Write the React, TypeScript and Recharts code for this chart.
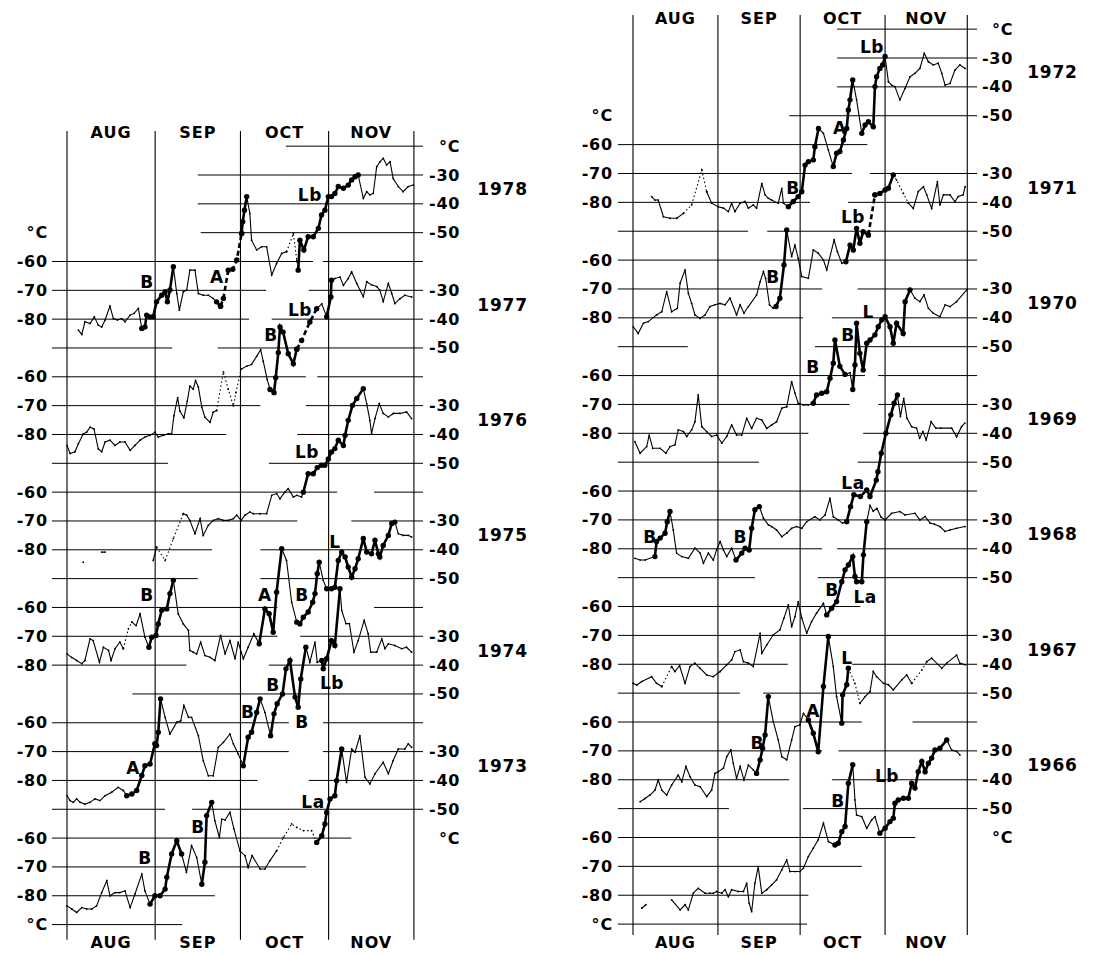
import React from 'react';
import { LineChart, Line, XAxis, YAxis, ReferenceLine, ReferenceDot } from 'recharts';

// Stratospheric temperature traces, Aug 1 (day 0) to Nov 30, one trace per year.
// Each year is drawn 40 °C lower than the one above it on a shared plot scale.
type Pt = [number, number];
type Seg = [string, Pt[]]; // t thin, d dotted, b bold with markers, k bold dashed with markers

const MONTHS = ['AUG', 'SEP', 'OCT', 'NOV'];
const MONTH_STARTS = [0, 31, 61, 92, 122];
const MONTH_MIDS = [15.5, 46, 76.5, 107];
const LEFT_TICKS = [-60, -70, -80];
const RIGHT_TICKS = [-30, -40, -50];
const YEAR_STEP = 40;

const YEARS_A = [1978, 1977, 1976, 1975, 1974, 1973];
const YEARS_B = [1972, 1971, 1970, 1969, 1968, 1967, 1966];

const S1978: Seg[] = [
  ['t', [[4, -83.8], [5.2, -85.3], [6.3, -80.9], [8.1, -81.5], [9.6, -79.2], [11, -82.1], [12.2, -82.7], [13.4, -80.3], [15.1, -75.5], [16.3, -79.8], [17.7, -80.3], [19.2, -79.8], [20.4, -80.9], [22.2, -78.6], [23.6, -78], [25.1, -76.3], [26.3, -83.2]]],
  ['b', [[26.3, -83.2], [27.4, -82.7], [28, -78.6], [29.2, -79.2], [30.3, -79.2], [31.5, -74], [33.3, -71.7], [34.5, -70.5], [35.3, -74], [36.2, -69.9], [37.4, -61.8]]],
  ['t', [[37.4, -61.8], [38.6, -71.1], [39.5, -76.9], [40.9, -70.5], [42.1, -69.9], [43.2, -63], [45, -63], [46.2, -71.1], [47.9, -71.7], [49.7, -71.7], [51.4, -72.8], [52.6, -74]]],
  ['b', [[52.6, -74], [54, -75.5]]],
  ['k', [[54, -75.5], [55, -72.8], [56.7, -63], [58.3, -62.7], [59.7, -59.5], [61.4, -50.3]]],
  ['b', [[61.4, -50.3], [61.8, -46.2], [62.4, -42.2], [63.2, -37.5]]],
  ['t', [[63.2, -37.5], [64.3, -43.3], [64.9, -52.6], [66.7, -56], [68.4, -54.9], [70.2, -54.9], [72, -64.7], [73.7, -60.7], [75.5, -57.2], [77.2, -56.6]]],
  ['d', [[77.2, -56.6], [79.6, -50.3], [80.8, -59.5], [81.3, -63]]],
  ['b', [[81.3, -63], [81.9, -52.6], [83.3, -56], [84.8, -51.4], [86.6, -51.4], [88.4, -48.5], [89.5, -43.9], [90.7, -42.2], [91.9, -37.5], [93, -37.5], [94.2, -36.4], [95.4, -34], [97.2, -34.6], [98.9, -33.5], [100.1, -31.7], [101.3, -30.6], [102.4, -30]]],
  ['t', [[102.4, -30], [104.2, -38.1], [105.4, -35.8], [106.5, -36.9], [107.7, -36.4], [108.9, -27.1], [110.1, -25.4], [111.2, -24.2], [112.4, -26.5], [113.6, -25.4], [114.7, -31.2], [116.5, -34], [118.2, -35.8], [120, -34], [121.8, -33.5]]],
];

const S1977: Seg[] = [
  ['t', [[0, -83.8], [1.1, -86.6], [2.8, -86], [4, -83.2], [5.7, -79.8], [6.9, -79.2], [8.1, -77.5], [9.5, -78.1], [11, -85], [12.2, -86], [13.4, -82.6], [15.1, -82], [16.9, -83.8], [18.6, -82.6], [20.4, -82.6], [22.2, -85.5], [23.9, -83.8], [25.7, -82], [27.4, -80.9], [29.2, -80.3], [30.9, -79.2], [32.1, -80.9], [33.9, -80.3], [35.6, -79.8], [36.8, -79.8], [37.6, -73.5], [38.9, -67.2], [39.7, -71.9], [41.1, -74.2], [42.3, -68.4], [43.2, -63.2], [44.4, -64.3], [45.2, -61.3], [46.2, -63.6], [47.4, -70.5], [48.5, -74], [50.3, -75.8], [51.4, -72.3], [52.6, -71.7]]],
  ['d', [[52.6, -71.7], [55, -58.3], [56.7, -64.3], [58.5, -70.1], [59.4, -65.5], [61.2, -57.4]]],
  ['t', [[61.2, -57.4], [63.2, -56.3], [64.9, -55.7], [66.7, -52.9], [68.1, -50.6], [69, -54.6], [70.4, -60.9], [71.4, -64.4]]],
  ['b', [[71.4, -64.4], [72.8, -65.5], [73.4, -60.3], [74.3, -51.6], [74.9, -42.7], [76, -44.5], [77.8, -52], [79.6, -55.5], [80.8, -50.4]]],
  ['k', [[80.8, -50.4], [82.5, -47.4], [85.4, -41], [87.8, -36.4]]],
  ['t', [[87.8, -36.4], [89.6, -34.7], [91.3, -39.2]]],
  ['b', [[91.3, -39.2], [92.8, -32.3], [93, -26.5]]],
  ['t', [[93, -26.5], [94.2, -25.9], [96, -25.4], [97.2, -28.3], [98.9, -25.9], [100.1, -23.6], [101.9, -27.6], [103, -29.9], [104.2, -32.2], [105.4, -27], [107.1, -28.1], [108.9, -28.7], [110, -29.9], [111.2, -33.9], [113, -27.6], [114.2, -31.1], [115.3, -34.6], [117.1, -32.9], [118.8, -31.7], [121.2, -32.3]]],
];

const S1976: Seg[] = [
  ['t', [[5.7, -84.3]]],
  ['t', [[12.2, -80.8], [13.4, -80.8]]],
  ['t', [[30.3, -83.7], [31.5, -79.1]]],
  ['d', [[31.5, -79.1], [34.5, -83.7], [37.4, -76.1], [40.9, -67.5]]],
  ['t', [[40.9, -67.5], [42.1, -68], [43.2, -69.8], [45, -74.4], [46.8, -69.2], [47.9, -75], [49.7, -71.5], [51.4, -69.8], [53.2, -69.2], [55, -69.8], [56.7, -69.8], [58.5, -69.2], [59.7, -68], [61.2, -69.8], [62.6, -68], [64.3, -66.9], [65.5, -67.5], [67.9, -67.5], [70.2, -67.5], [72, -61.1], [73.7, -60.5], [74.9, -62.3], [76.6, -60], [77.8, -58.8], [79.6, -61.7], [80.8, -61.1], [82.5, -61.7], [83.1, -60]]],
  ['b', [[83.1, -60], [84.8, -53.6], [86.6, -53.6], [88, -51.5], [89.5, -50.7], [90.7, -50.7], [91.9, -48.5], [93, -46.1], [94.2, -44.9], [95.4, -42], [97.2, -43.8], [97.8, -40.3], [98.9, -35.1], [100.4, -29.9], [101.9, -27.5], [104.2, -24.1]]],
  ['t', [[104.2, -24.1], [105.4, -29.3], [106.5, -35.1], [107.1, -39.7], [108.3, -34.5], [109.8, -29.3], [111.2, -32.7], [113, -33.9], [114.8, -32.7], [117.1, -32.7], [119.4, -32.2], [121.2, -34.5]]],
];

const S1975: Seg[] = [
  ['t', [[0, -76.1], [1.6, -77.3], [3.4, -78.4], [5.2, -79.5], [6.3, -78.4], [8.1, -70.9], [9.2, -71.5], [11.4, -79], [12.8, -73.8], [14.6, -74.9], [15.5, -78.4], [16.9, -74.3], [18.6, -72], [19.8, -74.3]]],
  ['d', [[19.8, -74.3], [21.6, -67.4], [22.8, -65.1]]],
  ['t', [[22.8, -65.1], [24.3, -66.3], [25.7, -62.2], [27.4, -70.3], [28.8, -73.8]]],
  ['b', [[28.8, -73.8], [29.8, -70.3], [31.3, -69.7], [32.1, -65.7], [33.3, -61], [35.1, -60.5], [36.2, -55.2], [37.4, -50.6]]],
  ['t', [[37.4, -50.6], [39.1, -62.2], [40.9, -65.7], [42.7, -68], [43.2, -74.9], [44.4, -75.5], [45.6, -76.1], [47, -72], [48.5, -76.7], [50.3, -77.3], [52, -78.4], [54, -69.7], [55.6, -76.1], [57.3, -71.5], [59.1, -77.8], [60.2, -72], [62, -77.8], [63.7, -73.8], [65.7, -69.1], [67.6, -72.6]]],
  ['b', [[67.6, -72.6], [69.6, -60.5], [71.1, -62.2], [72.5, -68.6], [73.7, -54.7], [75.5, -39.6]]],
  ['t', [[75.5, -39.6], [77.2, -43.7], [79, -58.2], [80.8, -65.1]]],
  ['b', [[80.8, -65.1], [81.9, -65.7], [83.1, -63.4], [84.8, -61.6], [86.4, -58.2], [87.2, -55.2], [88, -48.3], [88.7, -44.3]]],
  ['t', [[88.7, -44.3], [90.1, -50.6], [91.3, -53.5]]],
  ['b', [[91.3, -53.5], [93, -53.5], [94.2, -53], [95.4, -43.7], [96.6, -40.8], [97.8, -42.5], [98.9, -46], [100.1, -49.5], [101.3, -46.6], [102.4, -43.1], [104.2, -36.1], [105.4, -40.8], [107.1, -41.4], [108.3, -36.7], [109.5, -41.4], [110, -42.5], [111.2, -38.5], [113, -35], [114.2, -30.9], [115.3, -30.4]]],
  ['t', [[115.3, -30.4], [116.5, -34.4], [118.2, -35], [120, -35], [121.2, -35.6]]],
];

const S1974: Seg[] = [
  ['t', [[0, -85.3], [1.1, -87], [2.2, -87.6], [3.4, -86.4], [4.6, -87.6], [6.3, -88.2], [8.1, -87.6], [9.8, -86.4], [11.6, -87], [13.4, -85.3], [15.7, -84.1], [18, -82.4], [19.8, -83.5], [21, -85.3]]],
  ['b', [[21, -85.3], [22.8, -84.7], [24.5, -83.5], [26.3, -78.3], [27.4, -74.9], [29.2, -74.3], [30.9, -67.3], [31.5, -67.9], [32.1, -63.3], [32.9, -51.7]]],
  ['t', [[32.9, -51.7], [34.5, -58.1], [36.2, -63.9], [38.6, -59.8], [40, -59.3], [41.1, -54], [42.7, -58.1], [43.8, -58.1], [46.2, -64.5], [47.9, -73.1], [49.7, -78.4], [51.4, -78.4], [53.2, -68.5], [55, -66.8], [57.3, -63.9], [58.5, -67.3], [60.2, -70.8], [62, -74.9]]],
  ['b', [[62, -74.9], [63.7, -65], [64.9, -63.3], [66.7, -56.4], [67.9, -51.7]]],
  ['t', [[67.9, -51.7], [69.6, -56.4], [71.6, -64.5]]],
  ['b', [[71.6, -64.5], [72.8, -56.9], [73.9, -53.4], [75.8, -50], [77, -41.3], [78.4, -38.4], [80.2, -51.1], [81.3, -54.6], [82.2, -44.8], [84, -33.8]]],
  ['t', [[84, -33.8], [85.4, -39], [87.2, -32], [88, -39], [89.6, -38.4]]],
  ['b', [[89.6, -38.4], [90.1, -41.3], [91.3, -37.8], [93, -31.5], [94.2, -33.2], [96, -13.5]]],
  ['t', [[96, -13.5], [96.6, -21], [98.1, -25.6], [99.3, -25.6], [100.9, -35.5], [102.4, -31.5], [104.5, -24.5], [105.9, -29.1], [106.8, -35.5], [108.9, -35.5], [110.7, -30.9], [111.8, -34.3], [113, -32.6], [115.3, -33.2], [117.7, -34.3], [119.4, -33.8], [121.2, -35.5]]],
];

const S1973: Seg[] = [
  ['t', [[0, -83.5], [1.7, -84.6], [3.4, -85.8], [5.2, -84.1], [6.9, -84.6], [8.7, -84.6], [10.4, -83.5], [12.2, -78.9], [14, -74.8], [15.1, -80], [16.9, -78.9], [18.6, -78.9], [20.4, -78.3], [22.2, -84.1], [23.9, -79.4], [26.3, -72.5], [27.4, -78.3], [29.2, -82.9]]],
  ['b', [[29.2, -82.9], [30.9, -80], [32.7, -80], [34.5, -77.7], [35.1, -73.6], [36.8, -65.5], [38.6, -60.9], [40.3, -65.5]]],
  ['t', [[40.3, -65.5], [42, -71.9], [43.8, -62.6], [45.6, -66.7], [47.4, -76]]],
  ['b', [[47.4, -76], [48.5, -68.4], [49.1, -52.2], [50.9, -47.6]]],
  ['t', [[50.9, -47.6], [52, -54], [53.6, -59.8], [54.4, -53.4], [55.6, -53.7], [57.3, -51.1], [58.7, -56.8], [60.8, -64.4], [62.6, -66.1], [63.7, -70.2], [65.1, -66.1], [67.9, -70.7], [69.6, -70.7], [71.4, -67.8], [73.7, -64.4]]],
  ['d', [[73.7, -64.4], [76.1, -59.8], [79, -55.1], [80.8, -56.3], [83.1, -57.4], [86, -57.4], [87.8, -61.5]]],
  ['b', [[87.8, -61.5], [89.6, -59.2], [90.7, -55.1], [91.3, -51.1], [92.5, -46.4], [94.2, -45.3], [94.8, -40.1], [96.6, -29.1]]],
  ['t', [[96.6, -29.1], [98.3, -40.7], [100.1, -29.1], [101.3, -30.2], [103, -24.5], [104.8, -38.9], [106.5, -41.2], [108.3, -37.7], [111.2, -33.7], [113, -37.7], [114.7, -33.1], [116.5, -29.1], [118.8, -29.1], [120, -27.3], [121.2, -28.5]]],
];

const S1972: Seg[] = [
  ['t', [[6.8, -78], [8, -79.2], [9.2, -79.2], [11.1, -85], [13.5, -85.5], [16, -85.5], [18.4, -83.8]]],
  ['d', [[18.4, -83.8], [21.4, -80.9], [25.1, -68.8], [26.9, -76.3]]],
  ['t', [[26.9, -76.3], [28.7, -80.3], [31.1, -81.5], [33, -82], [34.8, -83.2], [36, -80.3], [37.2, -83.2], [39.1, -80.3], [40.9, -79.7], [42.1, -82], [43.9, -80.9], [45.1, -82], [47, -73.4], [48.2, -77.4], [49.4, -78.6], [50.6, -79.2], [53, -80.3], [54.3, -75.2], [54.9, -80.3], [56.7, -81.5]]],
  ['b', [[56.7, -81.5], [58.5, -79.7], [60.3, -78], [61.6, -76.3], [62.8, -67.1], [64, -65.9], [65.8, -65.3], [66.4, -60.7], [67.7, -54.4]]],
  ['t', [[67.7, -54.4], [69.5, -56.1], [71.3, -61.9], [73.1, -67.6]]],
  ['b', [[73.1, -67.6], [74.3, -63], [75.5, -62.4], [76.8, -58.4], [78, -54.4], [78.6, -48], [79.2, -44.5], [80.2, -37.6]]],
  ['t', [[80.2, -37.6], [81.6, -44.5], [83.5, -56.1]]],
  ['b', [[83.5, -56.1], [84.7, -53.2], [85.9, -52.1], [87.7, -53.8], [88.3, -39.9], [88.9, -36.5], [90.1, -33.6], [91.1, -32.4], [92, -29.5]]],
  ['t', [[92, -29.5], [93.2, -38.2], [94.4, -39.4], [95.6, -39.9], [97.4, -44.5], [99.3, -40.5], [101.1, -36.5], [102.9, -35.3], [104.7, -33.6], [106.3, -28.4], [107.8, -31.3], [109.6, -32.4], [111.4, -31.8], [112.7, -35.3], [113.9, -39.4], [115.7, -38.8], [117.5, -34.2], [119.3, -32.4], [121.2, -33.6]]],
];

const S1971: Seg[] = [
  ['t', [[0.1, -83.1], [1.9, -85.4], [3.8, -81.9], [5.6, -81.3], [8.6, -79], [10.5, -77.9], [12.3, -70.9], [14.1, -77.9], [16.2, -76.7], [17.2, -68], [19, -63.4], [20.2, -71.5], [21.4, -75], [22.6, -79], [24.5, -80.2], [26.3, -79], [28.1, -76.1], [29.9, -75.5], [31.8, -75], [33.6, -75.5], [35.4, -73.2], [37.8, -79], [39.1, -75.5], [40.5, -78.4], [42.1, -76.1], [45.1, -72.1], [46.4, -67.5], [47.6, -64], [48.4, -66.3], [49.8, -75.5], [51.2, -76.7], [52.2, -76.1]]],
  ['b', [[52.2, -76.1], [53.6, -73.2], [55.1, -61.7], [56.1, -49.6]]],
  ['t', [[56.1, -49.6], [57.9, -58.8], [59.1, -54.8], [60.3, -59.4], [61.6, -65.7], [64, -66.3], [65.8, -56.5], [67.6, -57.6], [69.5, -60], [70.7, -63.4], [73.4, -53], [74.6, -57.1], [76.2, -61.1], [77.7, -60.6]]],
  ['b', [[77.7, -60.6], [79.2, -54.8], [80.4, -56.5], [81.6, -49], [82.8, -54.2], [84, -50.2], [85.9, -51.3]]],
  ['k', [[85.9, -51.3], [88.3, -37.4]]],
  ['b', [[88.3, -37.4], [90.1, -36.9], [92, -35.7], [93.2, -35.1], [95, -30.5]]],
  ['d', [[95, -30.5], [96.2, -32.3], [98.7, -36.9], [100.5, -40.3]]],
  ['t', [[100.5, -40.3], [102.3, -42.1], [104.1, -36.3], [106, -34.6], [107.2, -37.4], [109, -42.1], [111.1, -32.8], [112, -40.9], [113.3, -37.4], [115.7, -37.4], [117.5, -39.8], [118.7, -38], [120.5, -37.4], [121.2, -34.6]]],
];

const S1970: Seg[] = [
  ['t', [[0.7, -82.9], [2.6, -86.9], [5, -84.6], [5.9, -80.6], [7.2, -85.2], [9.9, -85.2], [12, -86.9], [13.5, -84.6], [15.3, -84], [16.5, -78.8], [18.4, -79.4], [19.6, -81.1], [21.4, -78.8], [22.6, -76], [23.8, -66.7], [25.1, -77.7], [26.9, -79.4], [28.7, -81.1], [30.5, -80.6], [32.4, -83.4], [34.2, -81.1], [36, -77.1], [37.8, -80.6], [39.7, -80.6], [41.5, -74.8], [43.3, -78.3], [45.1, -74.8], [47, -75.4], [48.8, -78.3], [50.6, -77.1], [52.4, -76], [54.3, -71.3], [56.1, -70.8], [57.9, -62.1], [59.1, -66.1], [60.3, -69.6], [62.2, -70.2], [64, -70.2], [65.8, -69.6]]],
  ['b', [[65.8, -69.6], [67, -66.7], [68.9, -66.1], [70.7, -65.6], [71.9, -60.9], [73.1, -55.7], [73.7, -47.7], [75.5, -56.8], [77.4, -59.6]]],
  ['t', [[77.4, -59.6], [79.2, -59], [80.2, -64.8]]],
  ['b', [[80.2, -64.8], [81, -56.3], [81.6, -41.9], [82.8, -52.3], [84, -58.1], [85.3, -48.8], [86.5, -47.7], [88.3, -45.9], [89.5, -43.1], [90.8, -40.7], [92, -39.6], [93.8, -43.1], [95, -48.8], [96.2, -41.9], [98.6, -45.4], [99.3, -34.4], [101.1, -30.3]]],
  ['t', [[101.1, -30.3], [102.9, -33.2], [104.7, -34.4], [106.2, -32.1], [107.8, -36.7], [109.6, -38.4], [112, -39.6], [113.9, -35.5], [115.7, -36.1], [118.1, -34.4], [121.8, -30.3]]],
];

const S1969: Seg[] = [
  ['t', [[0.7, -83.3], [2.6, -83.9], [4.4, -83.9], [8, -82.7]]],
  ['b', [[8, -82.7], [8.6, -77.5], [9.9, -76.3], [11.7, -74.6], [12.5, -70.6], [13.5, -67.1]]],
  ['t', [[13.5, -67.1], [14.7, -73.5], [15.9, -81.5], [17.8, -82.7], [20.2, -83.3], [22.6, -79.8], [24.5, -81.5], [25.7, -85], [27.5, -81.5], [29.3, -83.9], [30.5, -80.4], [31.8, -77.5], [33, -80.4], [34.2, -82.7], [36, -79.8], [37.6, -83.9]]],
  ['b', [[37.6, -83.9], [39.7, -81.5], [40.9, -79.8], [42.4, -80.4], [43.3, -72.9], [44.5, -66.5], [46.1, -65.4]]],
  ['t', [[46.1, -65.4], [47.6, -69.4], [49.4, -71.7], [50.6, -72.3], [52.4, -73.5], [54.3, -75.8], [56.1, -74.6], [57.9, -72.9], [59.7, -72.3], [61.6, -72.9], [63.4, -70.6], [66.4, -68.9], [68.2, -70], [70.1, -68.3], [71.9, -62.5], [73.1, -68.9], [74.9, -70], [76.5, -71.1], [78, -70.6]]],
  ['b', [[78, -70.6], [79.4, -65.4], [80.6, -61.3], [83, -61.9], [85.3, -59.6], [86.5, -61.9], [88.8, -56.2], [89.4, -53.3], [90.6, -46.9], [92.3, -40], [94.1, -33.6], [95.3, -29.6], [96.5, -26.7]]],
  ['t', [[96.5, -26.7], [97.6, -34.2], [98.8, -27.9], [100, -34.8], [101.7, -37.7], [103.5, -38.2], [104.6, -41.7], [105.8, -39.4], [107, -42.3], [108.8, -36], [110.5, -38.2], [112.3, -38.2], [116.3, -38.2], [118.1, -41.2], [119.9, -37.7], [121.1, -36.5]]],
];

const S1968: Seg[] = [
  ['t', [[0, -86.6], [1.4, -87.2], [3.2, -86], [6.8, -84.3], [8.6, -86.6], [10.5, -87.7]]],
  ['d', [[10.5, -87.7], [14.1, -80.8]]],
  ['t', [[14.1, -80.8], [15.3, -82.5], [17, -80.5], [19, -86.6], [20.8, -80.8], [22.6, -79.6], [24.5, -81.4], [26.9, -83.7], [29.3, -84.3], [31.8, -82.5], [34.2, -80.2], [36, -78.5], [37.2, -75.6], [39.1, -75], [40.3, -79.1], [42.1, -79.6], [43.9, -80.8], [46.4, -69.2], [47, -76.2], [48.8, -73.3], [51.2, -69.8], [53.6, -68.1], [55.1, -64], [56.7, -59.4], [57.9, -67], [59.1, -63.5], [60.3, -58.3], [61.6, -64], [63.4, -69.2], [65.2, -65.2], [67, -62.3], [69.5, -58.9], [70.7, -62.9]]],
  ['b', [[70.7, -62.9], [72.5, -60.6], [74.3, -58.3], [76.2, -51.4], [77.4, -47.3], [78.6, -45.6], [80.2, -42.7], [81, -49.6], [81.6, -51.4], [83.5, -51.4], [84.1, -42.1], [85.3, -30.6]]],
  ['t', [[85.3, -30.6], [86.5, -25], [87.7, -27], [89, -26], [90.5, -29], [92, -30], [94.4, -27.7], [97.4, -27.1], [99.3, -28.3], [102.9, -27.7], [104.7, -30], [106.6, -28.8], [108.4, -31.1], [110, -31.5], [112, -32.3], [113.9, -34], [115.7, -33.5], [118.1, -32.9], [121.2, -32.3]]],
];

const S1967: Seg[] = [
  ['t', [[2.6, -87.6], [4.4, -86.5], [6.2, -85.3], [8, -83.6], [9.2, -80.1], [10.5, -83.6], [12.3, -85.3], [14.1, -81.8], [16.5, -78.4], [17.8, -80.7], [19.3, -75.4], [20.8, -78.9], [22.6, -81.8], [24.5, -82.4], [26.9, -85.8], [28.7, -83.6], [29.9, -77.8], [31.1, -77.2], [33, -76], [34.2, -72], [35.7, -69.7], [36.6, -74.3], [37.8, -79.5], [39.1, -75.4], [40.5, -80.1], [42.1, -74.9], [43.9, -76.6], [45.1, -77.8]]],
  ['b', [[45.1, -77.8], [46.4, -73.1], [47.3, -69.1], [48.2, -64.5], [49.4, -51.2]]],
  ['t', [[49.4, -51.2], [51.2, -59.9], [53, -66.2], [54.3, -72], [56.1, -73.1], [57.9, -66.2], [59.1, -61.6], [60.9, -61], [62.2, -57], [64, -59.3]]],
  ['b', [[64, -59.3], [65.8, -63.9], [67.6, -70.3], [69.5, -47.7], [71.3, -30.4]]],
  ['t', [[71.3, -30.4], [73.1, -40.8], [74.3, -51.2], [76.2, -60.4]]],
  ['b', [[76.2, -60.4], [76.5, -50.6], [78, -47.1], [78.6, -41.4]]],
  ['d', [[78.6, -41.4], [81, -46.6], [82.8, -53.5]]],
  ['t', [[82.8, -53.5], [84.7, -51.2], [86.5, -49.5], [87.7, -42.5], [88.9, -44.3], [91.4, -46.6], [93.2, -47.1], [95, -48.9], [98.1, -45.4], [99.9, -43.7], [101.7, -46.6]]],
  ['d', [[101.7, -46.6], [105.4, -42], [107.2, -39.1]]],
  ['t', [[107.2, -39.1], [109, -37.9], [112.7, -41.4], [114.5, -39.6], [118.1, -36.8], [119.3, -39.6], [121.2, -40.2]]],
];

const S1966: Seg[] = [
  ['t', [[3.2, -84.5], [4.7, -83.3]]],
  ['t', [[14.1, -81.6], [17.2, -85.1], [19, -83.3], [20.2, -85.1], [22, -79.3], [23.8, -77.6], [26.3, -79.3], [28.1, -79.3], [29.3, -79.3], [30.5, -78.7], [32.4, -79.3], [33.6, -78.1], [34.8, -80.5], [36, -78.1], [38.4, -78.7], [40.3, -78.7], [41.5, -75.8], [42.4, -82.8], [43.3, -85.7], [44.5, -75.8], [45.7, -70.1], [47, -79.3], [48.8, -78.1], [50.6, -76.4], [52.4, -74.7], [54.3, -71.2], [56.1, -67.8], [57.3, -71.8], [59.1, -71.8], [60.9, -71.8], [62.2, -70.6], [64, -66.6], [65.8, -63.7], [67.6, -60.8], [69.5, -55], [71.3, -61.4], [73.7, -62.6]]],
  ['b', [[73.7, -62.6], [74.9, -62], [76.2, -58], [77.4, -56.2], [78.6, -41.2], [80.2, -34.8]]],
  ['t', [[80.2, -34.8], [81, -47], [81.6, -52.2], [83.5, -52.8], [85.3, -56.8], [87.1, -53.9], [88.3, -52.8], [90.1, -58.5]]],
  ['b', [[90.1, -58.5], [92, -56.8], [93.8, -54.5], [95, -53.3], [95.6, -48.1], [96.8, -47], [98.7, -46.4], [100.5, -46.4], [101.7, -41.2], [102.9, -42.9], [104.1, -37.2], [105.4, -33.7], [106.6, -37.2], [107.8, -34.3], [109, -32.5], [110.2, -29.7], [112, -29.1], [114.5, -26.2]]],
  ['t', [[114.5, -26.2], [116.3, -29.7], [118.1, -30.2], [119.3, -31.4]]],
];

const SERIES_A = [S1978, S1977, S1976, S1975, S1974, S1973];
const SERIES_B = [S1972, S1971, S1970, S1969, S1968, S1967, S1966];

// event letters: [year index, day, °C of that year, text]
const NOTES_A: [number, number, number, string][] = [
  [0, 28.1, -67.1, 'B'], [0, 52.7, -65.4, 'A'], [0, 85.4, -36.9, 'Lb'],
  [1, 71.7, -45.5, 'B'], [1, 81.9, -36.8, 'Lb'],
  [2, 84.4, -46.1, 'Lb'],
  [3, 28.1, -55.7, 'B'], [3, 69.6, -55.7, 'A'], [3, 82.6, -55.7, 'B'], [3, 94.2, -37.3, 'L'],
  [4, 23.2, -75.7, 'A'], [4, 63.6, -56.3, 'B'], [4, 72.4, -46.9, 'B'], [4, 82.6, -59.8, 'B'], [4, 93.2, -46.2, 'Lb'],
  [5, 27.4, -66.9, 'B'], [5, 46.1, -56.2, 'B'], [5, 86.5, -47.5, 'La'],
];
const NOTES_B: [number, number, number, string][] = [
  [0, 58.4, -75, 'B'], [0, 75.5, -54.2, 'A'], [0, 87.2, -26.2, 'Lb'],
  [1, 51.1, -65.9, 'B'], [1, 80.3, -45.1, 'Lb'],
  [2, 65.7, -57, 'B'], [2, 78.5, -45.9, 'B'], [2, 85.8, -38, 'L'],
  [3, 6.2, -75.9, 'B'], [3, 39.1, -75.9, 'B'], [3, 80.3, -57.2, 'La'],
  [4, 72.6, -54.2, 'B'], [4, 84.7, -56.7, 'La'],
  [5, 45.3, -67.3, 'B'], [5, 65.7, -56.2, 'A'], [5, 78.1, -37.8, 'L'],
  [6, 74.8, -47.3, 'B'], [6, 92.7, -38.6, 'Lb'],
];

// rules: [plot level, end of left-hand rule (day), start of right-hand rule (day)]
const FULL = 999;
const RULES_A: [number, number | null, number | null][] = [
  [-20, null, 77], [-30, null, 46], [-40, null, 46], [-50, null, 47],
  [-60, 86.5, 90], [-70, 70, 85], [-80, 64, 72], [-90, 37, 53],
  [-100, 84, 88], [-110, 68, 84], [-120, 56, 81], [-130, 35.5, 71],
  [-140, 95, 108], [-150, 81, 100], [-160, 51, 68], [-170, 46, 68],
  [-180, 74, 108], [-190, 74, 82], [-200, 42, 71], [-210, null, 23],
  [-220, 78, 90], [-230, 78, 90], [-240, 67, 85], [-250, 34.5, 44],
  [-260, 100, null], [-270, 84, null], [-280, 52, null], [-290, 40.5, null],
];
const RULES_B: [number, number | null, number | null][] = [
  [-20, null, 74.5], [-30, null, 74.5], [-40, null, 74.5], [-50, null, 57],
  [-60, 85.5, null], [-70, 80, 86.5], [-80, 64.6, 78.5], [-90, 42, 49],
  [-100, FULL, null], [-110, 69, 82], [-120, 62, 72.6], [-130, 20, 66.4],
  [-140, 84.7, 89.5], [-150, 79, 89.5], [-160, 64, 84], [-170, 46, 82],
  [-180, FULL, null], [-190, FULL, null], [-200, 69, 74.5], [-210, 44.5, 67.5],
  [-220, 83, null], [-230, FULL, null], [-240, 56.5, 80], [-250, 39, 47.5],
  [-260, 83.5, 102], [-270, 69, 75], [-280, 57, 72.6], [-290, 35, 62],
  [-300, 103, null], [-310, 83.5, null], [-320, 64, null], [-330, 63.5, null],
];

const FONT = '"DejaVu Sans", "Liberation Sans", sans-serif';

type Geom = {
  left: number; width: number; mt: number; mb: number; uMin: number; uMax: number;
  wl: number; wr1: number; wr2: number; lm: number; ruleL: number; ruleR: number;
  vTop: number; vBot: number; mTop: number; mBot: number;
};

const GEOM_A: Geom = {
  left: 0, width: 551, mt: 117.34, mb: 2.59, uMin: -300, uMax: -10,
  wl: 49.94, wr1: 47, wr2: 78.7, lm: 2, ruleL: -5.3, ruleR: 125.2,
  vTop: -14.7, vBot: -295.3, mTop: -15.1, mBot: -296,
};
const GEOM_B: Geom = {
  left: 551, width: 551, mt: 0.26, mb: 3.03, uMin: -340, uMax: -10,
  wl: 65.56, wr1: 44, wr2: 79.76, lm: 3.6, ruleL: -5.5, ruleR: 125.6,
  vTop: -15.1, vBot: -333.8, mTop: -16.1, mBot: -336.2,
};

const STYLE: Record<string, { w: number; dash?: string; r: number }> = {
  t: { w: 1.1, r: 0.9 },
  d: { w: 1.1, dash: '1.5 2.5', r: 0.9 },
  b: { w: 2.6, r: 2.7 },
  k: { w: 2.6, dash: '5 3', r: 2.7 },
};

function textTick(labels: Map<number, string>, dx: number, anchor: 'start' | 'end', size: number) {
  return (p: any) => {
    const text = labels.get(Math.round(p.payload.value));
    if (!text) return <g />;
    return (
      <text x={p.x + dx} y={p.y} textAnchor={anchor} dominantBaseline="central"
        fontFamily={FONT} fontSize={size} fontWeight={700} fill="#000" letterSpacing={0.8}>
        {text}
      </text>
    );
  };
}

function Panel({ years, series, notes, rules, g }: {
  years: number[]; series: Seg[][]; notes: [number, number, number, string][];
  rules: [number, number | null, number | null][]; g: Geom;
}) {
  const n = years.length;
  const leftLabels = new Map<number, string>();
  const rightLabels = new Map<number, string>();
  const yearLabels = new Map<number, string>();
  years.forEach((yr, i) => {
    LEFT_TICKS.forEach((t) => leftLabels.set(t - YEAR_STEP * i, String(t)));
    RIGHT_TICKS.forEach((t) => rightLabels.set(t - YEAR_STEP * i, String(t)));
    yearLabels.set(-35 - YEAR_STEP * i, String(yr));
  });
  leftLabels.set(-50, '°C');
  leftLabels.set(-90 - YEAR_STEP * (n - 1), '°C');
  rightLabels.set(-20, '°C');
  rightLabels.set(-60 - YEAR_STEP * (n - 1), '°C');

  const lines: React.ReactElement[] = [];
  series.forEach((segs, i) => {
    segs.forEach(([kind, pts], j) => {
      const st = STYLE[kind];
      const data = pts.map(([d, t]) => ({ d, v: t - YEAR_STEP * i }));
      lines.push(
        <Line key={`s${i}-${j}`} xAxisId="x" yAxisId="v" data={data} dataKey="v" type="linear"
          stroke="#000" strokeWidth={st.w} strokeDasharray={st.dash}
          dot={{ r: st.r, fill: '#000', stroke: '#000', strokeWidth: 0 }}
          activeDot={false} isAnimationActive={false} legendType="none" />
      );
    });
  });

  const ruleEls: React.ReactElement[] = [];
  rules.forEach(([lvl, le, rs], k) => {
    if (le !== null) {
      const end = le === FULL ? g.ruleR : le;
      ruleEls.push(
        <ReferenceLine key={`rl${k}`} xAxisId="x" yAxisId="v" stroke="#000" strokeWidth={1}
          segment={[{ x: g.ruleL, y: lvl }, { x: end, y: lvl }]} />
      );
    }
    if (rs !== null) {
      ruleEls.push(
        <ReferenceLine key={`rr${k}`} xAxisId="x" yAxisId="v" stroke="#000" strokeWidth={1}
          segment={[{ x: rs, y: lvl }, { x: g.ruleR, y: lvl }]} />
      );
    }
  });

  const tickVals = (m: Map<number, string>) => Array.from(m.keys()).sort((a, b) => a - b);
  const labelStyle = { fill: '#000', fontSize: 16, fontWeight: 700, fontFamily: FONT, letterSpacing: 1 };

  return (
    <div style={{ position: 'absolute', left: g.left, top: 0 }}>
      <LineChart width={g.width} height={956} margin={{ top: g.mt, bottom: g.mb, left: 0, right: 0 }}>
        <XAxis xAxisId="x" type="number" dataKey="d" domain={[-6, 126]} ticks={MONTH_STARTS}
          allowDataOverflow hide />
        <YAxis yAxisId="v" orientation="left" type="number" width={g.wl} domain={[g.uMin, g.uMax]}
          allowDataOverflow ticks={tickVals(leftLabels)} interval={0} tickSize={0} tickMargin={g.lm}
          axisLine={false} tickLine={false} tick={textTick(leftLabels, 0, 'end', 16)} />
        <YAxis yAxisId="r" orientation="right" type="number" width={g.wr1} domain={[g.uMin, g.uMax]}
          allowDataOverflow ticks={tickVals(rightLabels)} interval={0} tickSize={0} tickMargin={0}
          axisLine={false} tickLine={false} tick={textTick(rightLabels, 35, 'end', 16)} />
        <YAxis yAxisId="y" orientation="right" type="number" width={g.wr2} domain={[g.uMin, g.uMax]}
          allowDataOverflow ticks={tickVals(yearLabels)} interval={0} tickSize={0} tickMargin={0}
          axisLine={false} tickLine={false} tick={textTick(yearLabels, 5, 'start', 17)} />
        {ruleEls}
        {MONTH_STARTS.map((m) => (
          <ReferenceLine key={`m${m}`} xAxisId="x" yAxisId="v" stroke="#000" strokeWidth={1.1}
            segment={[{ x: m, y: g.vTop }, { x: m, y: g.vBot }]} />
        ))}
        {lines}
        {MONTHS.map((name, k) => (
          <ReferenceDot key={`mt${k}`} xAxisId="x" yAxisId="v" x={MONTH_MIDS[k]} y={g.mTop} r={0}
            fill="none" stroke="none" label={{ value: name, position: 'center', ...labelStyle }} />
        ))}
        {MONTHS.map((name, k) => (
          <ReferenceDot key={`mb${k}`} xAxisId="x" yAxisId="v" x={MONTH_MIDS[k]} y={g.mBot} r={0}
            fill="none" stroke="none" label={{ value: name, position: 'center', ...labelStyle }} />
        ))}
        {notes.map(([i, d, t, txt], k) => (
          <ReferenceDot key={`n${k}`} xAxisId="x" yAxisId="v" x={d} y={t - YEAR_STEP * i} r={0}
            fill="none" stroke="none"
            label={{ value: txt, position: 'center', ...labelStyle, fontSize: 17, letterSpacing: 0.5 }} />
        ))}
      </LineChart>
    </div>
  );
}

export default function App() {
  return (
    <div style={{ position: 'absolute', left: 0, top: 0, width: 1102, height: 956, background: '#fff', fontFamily: FONT }}>
      <Panel years={YEARS_A} series={SERIES_A} notes={NOTES_A} rules={RULES_A} g={GEOM_A} />
      <Panel years={YEARS_B} series={SERIES_B} notes={NOTES_B} rules={RULES_B} g={GEOM_B} />
    </div>
  );
}
